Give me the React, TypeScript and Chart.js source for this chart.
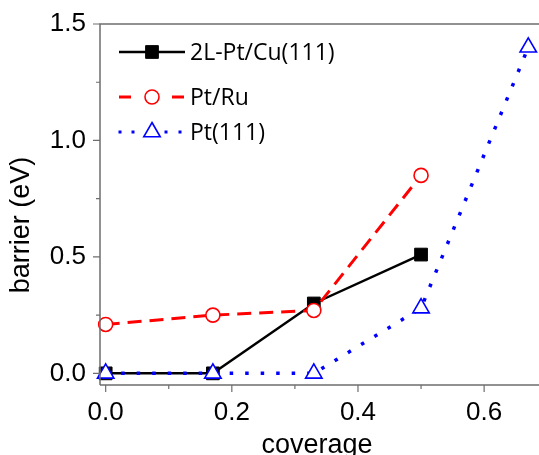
import React, { useEffect, useRef } from 'react';
import { Chart, registerables } from 'chart.js';

Chart.register(...registerables);

// Series labels and values
const seriesNames = ['2L-Pt/Cu(111)', 'Pt/Ru', 'Pt(111)'];
const coverage = [0, 0.17, 0.33, 0.5, 0.67];
const ptCuBarrier = [0, 0, 0.3, 0.51];
const ptRuBarrier = [0.21, 0.25, 0.27, 0.85];
const pt111Barrier = [0, 0, 0, 0.28, 1.4];

// Axis ticks and titles
const xMajorTicks = [0, 0.2, 0.4, 0.6];
const xMinorTicks = [0.1, 0.3, 0.5];
const yMajorTicks = [0, 0.5, 1.0, 1.5];
const yMinorTicks = [0.25, 0.75, 1.25];
const xTitle = 'coverage';
const yTitle = 'barrier (eV)';

const AXIS_COLOR = '#6e6e6e';
const SANS = '"Liberation Sans", Arial, sans-serif';
const LEGEND_FONT = '23px "Open Sans", "Noto Sans", sans-serif';

const toPoints = (values: number[]) => values.map((y, i) => ({ x: coverage[i], y }));

type SeriesStyle = {
  color: string;
  dash: number[];
  width: number;
  pointStyle: string;
  radius: number;
  fill: string;
};

const styles: SeriesStyle[] = [
  { color: '#000000', dash: [], width: 2.5, pointStyle: 'rect', radius: 9, fill: '#000000' },
  { color: '#ff0000', dash: [14, 8], width: 3, pointStyle: 'circle', radius: 7, fill: '#ffffff' },
  { color: '#0000ff', dash: [3.5, 12], width: 3.5, pointStyle: 'triangle', radius: 9.5, fill: '#ffffff' },
];

function drawMarker(ctx: CanvasRenderingContext2D, style: string, r: number, x: number, y: number) {
  ctx.beginPath();
  if (style === 'rect') {
    const s = Math.SQRT1_2 * r;
    ctx.rect(x - s, y - s, 2 * s, 2 * s);
  } else if (style === 'circle') {
    ctx.arc(x, y, r, 0, Math.PI * 2);
  } else {
    ctx.moveTo(x, y - r);
    ctx.lineTo(x + (Math.sqrt(3) / 2) * r, y + r / 2);
    ctx.lineTo(x - (Math.sqrt(3) / 2) * r, y + r / 2);
    ctx.closePath();
  }
  ctx.fill();
  ctx.stroke();
}

// Frame, minor/major tick marks, axis titles and the legend box
const decorPlugin = {
  id: 'decor',
  afterDraw(chart: any) {
    const { ctx, chartArea, scales } = chart;
    const xs = scales.x;
    const ys = scales.y;
    ctx.save();
    ctx.strokeStyle = AXIS_COLOR;
    ctx.lineWidth = 1.5;
    ctx.beginPath();
    ctx.moveTo(chartArea.left, chartArea.bottom);
    ctx.lineTo(chartArea.left, chartArea.top);
    ctx.lineTo(chartArea.right, chartArea.top);
    ctx.moveTo(chartArea.left, chartArea.bottom);
    ctx.lineTo(chartArea.right, chartArea.bottom);
    ctx.stroke();

    ctx.lineWidth = 1.2;
    ctx.beginPath();
    xMajorTicks.forEach((v) => {
      const p = xs.getPixelForValue(v);
      ctx.moveTo(p, chartArea.bottom);
      ctx.lineTo(p, chartArea.bottom + 7);
    });
    xMinorTicks.forEach((v) => {
      const p = xs.getPixelForValue(v);
      ctx.moveTo(p, chartArea.bottom);
      ctx.lineTo(p, chartArea.bottom + 4);
    });
    yMajorTicks.forEach((v) => {
      const p = ys.getPixelForValue(v);
      ctx.moveTo(chartArea.left, p);
      ctx.lineTo(chartArea.left - 7, p);
    });
    yMinorTicks.forEach((v) => {
      const p = ys.getPixelForValue(v);
      ctx.moveTo(chartArea.left, p);
      ctx.lineTo(chartArea.left - 4, p);
    });
    ctx.stroke();

    // axis titles
    ctx.fillStyle = '#000000';
    ctx.font = `27px ${SANS}`;
    ctx.textAlign = 'center';
    ctx.textBaseline = 'alphabetic';
    ctx.fillText(xTitle, 317, 453);
    ctx.save();
    ctx.translate(29, 225);
    ctx.rotate(-Math.PI / 2);
    ctx.fillText(yTitle, 0, 0);
    ctx.restore();

    // legend
    const rows = [52, 97, 132];
    const lineLeft = 119;
    const lineRight = 185;
    const mid = 152;
    ctx.font = LEGEND_FONT;
    ctx.textAlign = 'left';
    ctx.textBaseline = 'middle';
    styles.forEach((s, i) => {
      const yRow = rows[i];
      ctx.save();
      ctx.strokeStyle = s.color;
      ctx.lineWidth = s.width;
      if (i === 0) {
        ctx.beginPath();
        ctx.moveTo(lineLeft, yRow);
        ctx.lineTo(lineRight, yRow);
        ctx.stroke();
      } else if (i === 1) {
        ctx.beginPath();
        ctx.moveTo(lineLeft, yRow);
        ctx.lineTo(lineLeft + 12, yRow);
        ctx.moveTo(lineRight - 13, yRow);
        ctx.lineTo(lineRight - 1, yRow);
        ctx.stroke();
      } else {
        ctx.fillStyle = s.color;
        [120, 133, 166, 180].forEach((dx) => {
          ctx.fillRect(dx - 1.5, yRow - 1.5, 3, 3);
        });
      }
      ctx.restore();
      ctx.save();
      ctx.strokeStyle = s.color;
      ctx.fillStyle = s.fill;
      ctx.lineWidth = i === 0 ? 1 : 1.6;
      drawMarker(ctx, s.pointStyle, s.radius, mid, yRow);
      ctx.restore();
      ctx.fillStyle = '#000000';
      ctx.fillText(seriesNames[i], 190, yRow + 1);
    });
    ctx.restore();
  },
};

export default function App() {
  const canvasRef = useRef<HTMLCanvasElement | null>(null);

  useEffect(() => {
    const canvas = canvasRef.current;
    if (!canvas) return;
    const series = [ptCuBarrier, ptRuBarrier, pt111Barrier];
    const chart = new Chart(canvas, {
      type: 'line',
      data: {
        datasets: series.map((values, i) => ({
          label: seriesNames[i],
          data: toPoints(values),
          borderColor: styles[i].color,
          borderWidth: styles[i].width,
          borderDash: styles[i].dash,
          pointStyle: styles[i].pointStyle as any,
          pointRadius: styles[i].radius,
          pointBorderColor: styles[i].color,
          pointBackgroundColor: styles[i].fill,
          pointBorderWidth: i === 0 ? 1 : 1.6,
          tension: 0,
          clip: false as any,
          order: 3 - i,
        })),
      },
      options: {
        animation: false,
        responsive: false,
        layout: { autoPadding: false, padding: { top: 24, left: 0, right: 0, bottom: 0 } },
        plugins: { legend: { display: false }, tooltip: { enabled: false } },
        scales: {
          x: {
            type: 'linear',
            min: -0.009,
            max: 0.687,
            grid: { display: false, drawTicks: false },
            border: { display: false },
            afterBuildTicks: (scale: any) => {
              scale.ticks = xMajorTicks.map((value) => ({ value }));
            },
            afterFit: (scale: any) => {
              scale.height = 70;
              scale.paddingLeft = 0;
              scale.paddingRight = 0;
            },
            ticks: {
              padding: 12,
              color: '#000000',
              font: { family: SANS, size: 26 },
              callback: (v: any) => Number(v).toFixed(1),
            },
          },
          y: {
            type: 'linear',
            min: -0.05,
            max: 1.5,
            grid: { display: false, drawTicks: false },
            border: { display: false },
            afterBuildTicks: (scale: any) => {
              scale.ticks = yMajorTicks.map((value) => ({ value }));
            },
            afterFit: (scale: any) => {
              scale.width = 100;
              scale.paddingTop = 0;
              scale.paddingBottom = 0;
            },
            ticks: {
              padding: 14,
              color: '#000000',
              font: { family: SANS, size: 26 },
              callback: (v: any) => Number(v).toFixed(1),
            },
          },
        },
      },
      plugins: [decorPlugin],
    });
    return () => chart.destroy();
  }, []);

  return (
    <div style={{ position: 'fixed', left: 0, top: 0, width: 539, height: 455, background: '#ffffff' }}>
      <canvas ref={canvasRef} width={539} height={455} style={{ display: 'block' }} />
    </div>
  );
}
